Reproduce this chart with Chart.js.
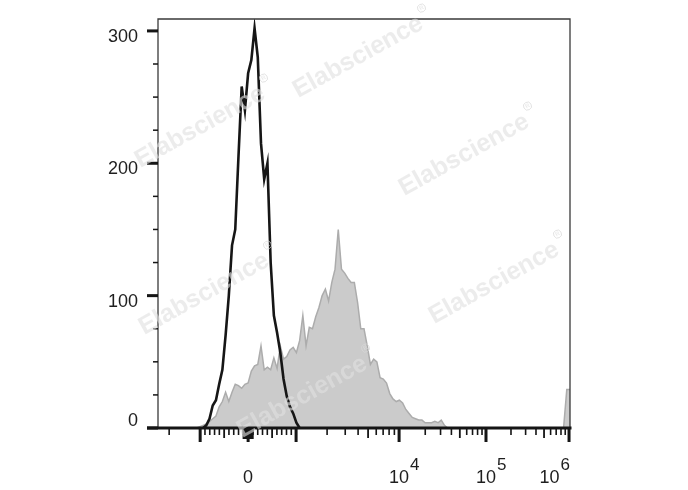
<!DOCTYPE html>
<html>
<head>
<meta charset="utf-8">
<script src="https://cdn.jsdelivr.net/npm/chart.js@4.4.1/dist/chart.umd.min.js"></script>
<style>
  html, body { margin: 0; padding: 0; background: #fff; }
  #wrap { width: 688px; height: 490px; }
</style>
</head>
<body>
<div id="wrap"><canvas id="myChart" width="688" height="490"></canvas></div>
<script>
// histogram counts, one value per display channel (128 channels across the axis)
const unstainedStart = 14;
const unstainedCounts = [
    0, 2, 7, 17, 21, 33, 44, 70, 100, 138,
    150, 205, 258, 240, 268, 278, 302, 280, 215, 188,
    200, 125, 85, 72, 57, 37, 24, 16, 11, 4,
    0
];

const stainedStart = 12;
const stainedCounts = [
    0, 1, 2, 3, 5, 7, 9, 16, 20, 27,
    20, 27, 33, 32, 30, 33, 34, 43, 47, 48,
    62, 44, 46, 44, 53, 45, 62, 52, 54, 59,
    61, 57, 66, 85, 62, 76, 75, 84, 91, 100,
    105, 96, 110, 120, 150, 120, 117, 113, 110, 110,
    95, 75, 75, 62, 48, 52, 50, 38, 37, 34,
    26, 22, 20, 21, 19, 14, 11, 8, 7, 6,
    6, 4, 4, 4, 5, 4, 6, 2, 0
];
// events piled up at the top of the range
const stainedEdgeStart = 126;
const stainedEdgeCounts = [0, 29, 29];

const yMax = 309;
const yMajorTicks = [0, 100, 200, 300];
const yMinorTicks = [25, 50, 75, 125, 150, 175, 225, 250, 275];

// x axis ticks in fluorescence units
const xMajorTicks = [-1000, 0, 1000, 1e4, 1e5, 1e6];
const xMidTicks = [-500, 500, 5000, 5e4, 5e5];
const xLabelValues = [0, 1e4, 1e5, 1e6];
const xLabelTexts = [['0', ''], ['10', '4'], ['10', '5'], ['10', '6']];

var xMinorTicks = [-2000];
[1, 2, 3, 4, 6, 7, 8, 9].forEach(m => {
    xMinorTicks.push(-m * 100, m * 100, m * 1000, m * 1e4, m * 1e5);
});
var xNearZeroTicks = [];
for (var m = 1; m <= 9; m++) { xNearZeroTicks.push(-m * 10, m * 10); }

// biexponential display: linear around zero, log decades above 10^3
const zeroCh = 28;
const linSlope = 0.0149;
const decadeCh = [42.9, 74.9, 101.9, 127.7];

function toChannel(v)
{
    if (Math.abs(v) <= 1000) return zeroCh + v * linSlope;
    var d = Math.log10(Math.abs(v)) - 3;
    if (v < 0) return zeroCh - 1000 * linSlope - d * (decadeCh[1] - decadeCh[0]);
    var i = Math.min(Math.floor(d), 2);
    return decadeCh[i] + (d - i) * (decadeCh[i + 1] - decadeCh[i]);
}

function toPoints(start, counts)
{
    return counts.map((c, i) => ({ x: start + i, y: c }));
}

const watermarks = [[358, 57], [200, 127], [464, 155], [204, 294], [494, 283], [302, 397]];

const axesPlugin = {
    id: 'flowAxes',
    afterDatasetsDraw(chart)
    {
        const ctx = chart.ctx;
        const a = chart.chartArea;
        const x = chart.scales.x;
        const y = chart.scales.y;
        ctx.save();

        // frame
        ctx.strokeStyle = '#3a3a3a';
        ctx.lineWidth = 1.3;
        ctx.beginPath();
        ctx.moveTo(a.left, a.bottom);
        ctx.lineTo(a.left, a.top);
        ctx.lineTo(a.right, a.top);
        ctx.lineTo(a.right, a.bottom);
        ctx.stroke();

        ctx.fillStyle = '#151515';
        ctx.fillRect(a.left - 11, a.bottom - 1.5, a.right - a.left + 12.5, 3);

        // y ticks
        yMinorTicks.forEach(v => {
            var py = y.getPixelForValue(v);
            ctx.fillRect(a.left - 5, py - 0.75, 5, 1.5);
        });
        yMajorTicks.forEach(v => {
            var py = y.getPixelForValue(v);
            ctx.fillRect(a.left - 11, py - 1.5, 11, 3);
        });

        // x ticks
        function xTick(v, len, w)
        {
            var px = x.getPixelForValue(toChannel(v));
            ctx.fillRect(px - w / 2, a.bottom, w, len);
        }
        xMinorTicks.forEach(v => xTick(v, 7, 1.6));
        xNearZeroTicks.forEach(v => xTick(v, 11, 2.4));
        xMidTicks.forEach(v => xTick(v, 10, 1.8));
        xMajorTicks.forEach(v => xTick(v, 14, 3));

        // labels
        ctx.fillStyle = '#1e1e1e';
        ctx.font = '18px "Liberation Sans", Arial, sans-serif';
        ctx.textAlign = 'right';
        ctx.textBaseline = 'middle';
        yMajorTicks.forEach(v => {
            var py = y.getPixelForValue(v);
            ctx.fillText(String(v), 138, py + (v === 0 ? -7 : 6));
        });

        ctx.textAlign = 'left';
        ctx.textBaseline = 'alphabetic';
        xLabelValues.forEach((v, i) => {
            var px = x.getPixelForValue(toChannel(v));
            var base = xLabelTexts[i][0], exp = xLabelTexts[i][1];
            ctx.font = '18px "Liberation Sans", Arial, sans-serif';
            var wb = ctx.measureText(base).width;
            ctx.font = '17px "Liberation Sans", Arial, sans-serif';
            var we = exp ? ctx.measureText(exp).width + 1 : 0;
            var left = px - wb / 2;
            if (left + wb + we > a.right + 1) left = a.right - wb - we;
            ctx.font = '18px "Liberation Sans", Arial, sans-serif';
            ctx.fillText(base, left, 483);
            if (exp) {
                ctx.font = '17px "Liberation Sans", Arial, sans-serif';
                ctx.fillText(exp, left + wb + 1, 470);
            }
        });

        // watermarks
        ctx.fillStyle = 'rgba(225, 225, 225, 0.62)';
        ctx.strokeStyle = 'rgba(215, 215, 215, 0.8)';
        watermarks.forEach(p => {
            ctx.save();
            ctx.translate(p[0], p[1]);
            ctx.rotate(-29 * Math.PI / 180);
            ctx.font = 'bold 25px "Liberation Sans", Arial, sans-serif';
            ctx.textAlign = 'center';
            ctx.textBaseline = 'middle';
            ctx.fillText('Elabscience', 0, 0);
            var w = ctx.measureText('Elabscience').width;
            ctx.lineWidth = 0.8;
            ctx.beginPath();
            ctx.arc(w / 2 + 7, -12, 4, 0, Math.PI * 2);
            ctx.stroke();
            ctx.font = 'bold 6px "Liberation Sans", Arial, sans-serif';
            ctx.fillText('R', w / 2 + 7, -12);
            ctx.restore();
        });

        ctx.restore();
    }
};

const data =
{
    datasets:
    [
        {
            label: 'Unstained',
            data: toPoints(unstainedStart, unstainedCounts),
            borderColor: '#161616',
            borderWidth: 2.6,
            fill: false,
        },
        {
            label: 'Stained',
            data: toPoints(stainedStart, stainedCounts)
                .concat(toPoints(stainedEdgeStart, stainedEdgeCounts)),
            borderColor: '#acacac',
            backgroundColor: '#cbcbcb',
            borderWidth: 1.5,
            fill: 'origin',
        }
    ]
};

const config =
{
    type: 'line',
    data: data,
    options: {
        responsive: false,
        animation: false,
        layout: { padding: { left: 158, top: 19, right: 118, bottom: 62 } },
        elements: { point: { radius: 0 }, line: { tension: 0 } },
        plugins: { legend: { display: false }, tooltip: { enabled: false } },
        scales:
        {
            x: { type: 'linear', min: 0, max: 128, display: false },
            y: { min: 0, max: yMax, display: false }
        }
    },
    plugins: [axesPlugin]
};

var myChart = new Chart(document.getElementById('myChart'), config);
</script>
</body>
</html>
